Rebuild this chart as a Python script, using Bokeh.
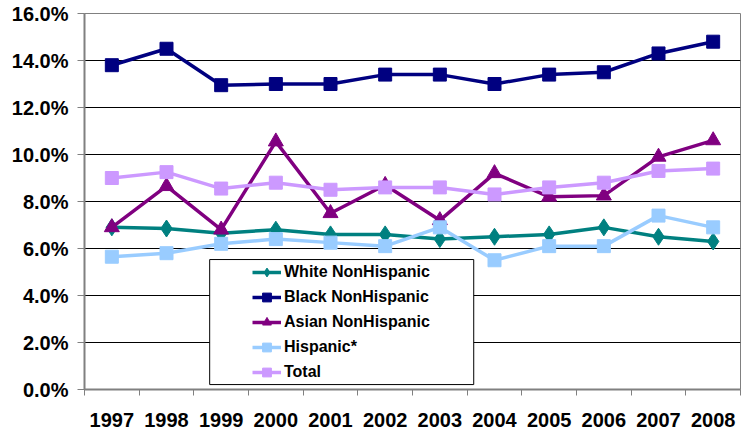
from bokeh.plotting import figure
from bokeh.models import (Range1d, FixedTicker, PrintfTickFormatter, Legend, LegendItem,
                          BoxAnnotation, ColumnDataSource)
from bokeh.embed import file_html
from bokeh.resources import INLINE

years = ["1997", "1998", "1999", "2000", "2001", "2002", "2003", "2004", "2005", "2006", "2007", "2008"]
white = [6.9, 6.85, 6.65, 6.8, 6.6, 6.6, 6.4, 6.5, 6.6, 6.9, 6.5, 6.3]
black = [13.8, 14.5, 12.95, 13.0, 13.0, 13.4, 13.4, 13.0, 13.4, 13.5, 14.3, 14.8]
asian = [6.9, 8.65, 6.8, 10.55, 7.5, 8.7, 7.2, 9.2, 8.2, 8.25, 9.9, 10.6]
hispanic = [5.65, 5.8, 6.2, 6.4, 6.25, 6.1, 6.9, 5.5, 6.1, 6.1, 7.4, 6.9]
total = [9.0, 9.25, 8.55, 8.8, 8.5, 8.6, 8.6, 8.3, 8.6, 8.8, 9.3, 9.4]

series = [
    ("White NonHispanic", white, "#008080", "diamond", 17),
    ("Black NonHispanic", black, "#000080", "square", 13),
    ("Asian NonHispanic", asian, "#800080", "triangle", 15),
    ("Hispanic*", hispanic, "#99CCFF", "square", 13),
    ("Total", total, "#CC99FF", "square", 13),
]

xpos = [i + 0.5 for i in range(len(years))]

p = figure(width=745, height=429, output_backend="svg", toolbar_location=None,
           x_range=Range1d(0, len(years)), y_range=Range1d(0, 16),
           min_border_left=84, min_border_right=5, min_border_top=13, min_border_bottom=40)
p.outline_line_color = "#808080"
p.outline_line_width = 1
p.background_fill_color = "white"

FONT = "Liberation Sans"

# x axis
p.xaxis.ticker = FixedTicker(ticks=xpos, minor_ticks=list(range(len(years) + 1)))
p.xaxis.major_label_overrides = {x: y for x, y in zip(xpos, years)}
p.xaxis.major_tick_line_color = None
p.xaxis.major_tick_out = 0
p.xaxis.major_tick_in = 0
p.xaxis.minor_tick_line_color = "#808080"
p.xaxis.minor_tick_out = 6
p.xaxis.minor_tick_in = 0
p.xaxis.minor_tick_line_width = 1
p.xaxis.axis_line_color = "#808080"
p.xaxis.axis_line_width = 2
p.xaxis.major_label_standoff = 17
p.xaxis.major_label_text_font = FONT
p.xaxis.major_label_text_font_style = "bold"
p.xaxis.major_label_text_font_size = "20px"
p.xaxis.major_label_text_color = "black"

# y axis
p.yaxis.ticker = FixedTicker(ticks=[0, 2, 4, 6, 8, 10, 12, 14, 16], minor_ticks=[])
p.yaxis.formatter = PrintfTickFormatter(format="%.1f%%")
p.yaxis.axis_line_color = "#808080"
p.yaxis.axis_line_width = 2
p.yaxis.major_tick_line_color = "#808080"
p.yaxis.major_tick_out = 7
p.yaxis.major_tick_in = 0
p.yaxis.major_label_standoff = 9
p.yaxis.major_label_text_font = FONT
p.yaxis.major_label_text_font_style = "bold"
p.yaxis.major_label_text_font_size = "20px"
p.yaxis.major_label_text_color = "black"

p.xgrid.grid_line_color = None
p.ygrid.grid_line_color = "black"
p.ygrid.grid_line_width = 1

items = []
for name, vals, color, marker, size in series:
    src = ColumnDataSource(dict(x=xpos, y=vals))
    lr = p.line("x", "y", source=src, line_color=color, line_width=3.5)
    sr = p.scatter("x", "y", source=src, marker=marker, size=size,
                   fill_color=color, line_color=color)
    items.append(LegendItem(label=name, renderers=[lr, sr]))

# legend frame
box = BoxAnnotation(left=2.29, right=7.12, bottom=0.21, top=5.53,
                    fill_color="white", fill_alpha=1.0, line_color="black", line_width=1,
                    line_alpha=1.0)
p.add_layout(box)

legend = Legend(items=items, location=(168, 6), margin=0, padding=0,
                background_fill_alpha=0, border_line_alpha=0,
                glyph_width=29, glyph_height=22, label_height=22, spacing=3,
                label_standoff=3,
                label_text_font=FONT, label_text_font_style="bold",
                label_text_font_size="16px", label_text_color="black")
p.add_layout(legend, "center")

open("out.html", "w").write(file_html(p, INLINE))
